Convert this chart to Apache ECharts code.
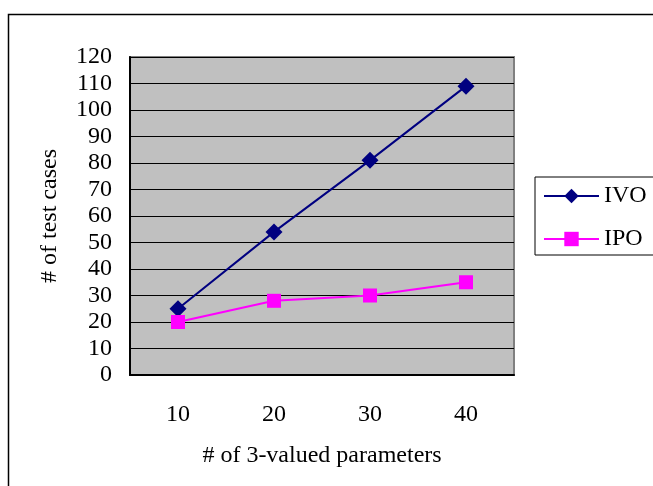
<!DOCTYPE html>
<html>
<head>
<meta charset="utf-8">
<script src="https://cdn.jsdelivr.net/npm/echarts@6/dist/echarts.min.js"></script>
<style>
  html, body { margin: 0; padding: 0; background: #fff; }
  #main { width: 653px; height: 486px; }
</style>
</head>
<body>
<div id="main"></div>
<script>
// data
var categories = ['10', '20', '30', '40'];
var ivoValues = [25, 54, 81, 109];
var ipoValues = [20, 28, 30, 35];

var font = 'Liberation Serif';
var myChart = echarts.init(document.getElementById('main'));

var option = {
    animation: false,
    textStyle: { fontFamily: font },
    graphic: [
        {
            // outer frame
            type: 'rect',
            shape: { x: 8.5, y: 14.5, width: 700, height: 500 },
            style: { fill: 'none', stroke: '#000', lineWidth: 1.5 },
            z: -1
        }
    ],
    grid: {
        left: 130, top: 57, width: 384, height: 318,
        show: true,
        backgroundColor: '#c0c0c0',
        borderColor: '#808080',
        borderWidth: 2
    },
    legend: {
        orient: 'vertical',
        left: 535, top: 177,
        width: 118,
        padding: [7, 40, 4, 8],
        itemGap: 19,
        itemWidth: 55,
        itemHeight: 18,
        borderColor: '#000',
        borderWidth: 1,
        textStyle: { fontFamily: font, fontSize: 24, lineHeight: 24, color: '#000' },
        data: ['IVO', 'IPO']
    },
    xAxis: {
        type: 'category',
        data: categories,
        boundaryGap: true,
        name: '# of 3-valued parameters',
        nameLocation: 'middle',
        nameGap: 69,
        nameTextStyle: { fontFamily: font, fontSize: 24, color: '#000' },
        axisLine: { lineStyle: { color: '#000', width: 2 } },
        axisTick: { inside: true, length: 6, lineStyle: { color: '#000' } },
        axisLabel: { margin: 28, fontFamily: font, fontSize: 24, color: '#000' },
        splitLine: { show: false }
    },
    yAxis: {
        type: 'value',
        min: 0, max: 120, interval: 10,
        name: '# of test cases',
        nameLocation: 'middle',
        nameGap: 68,
        nameTextStyle: { fontFamily: font, fontSize: 24, color: '#000' },
        axisLine: { show: true, lineStyle: { color: '#000', width: 2 } },
        axisTick: { show: true, inside: true, length: 6, lineStyle: { color: '#000' } },
        axisLabel: { margin: 18, fontFamily: font, fontSize: 24, color: '#000' },
        splitLine: { show: true, lineStyle: { color: '#000', width: 1 } }
    },
    series: [
        {
            name: 'IVO',
            type: 'line',
            data: ivoValues,
            symbol: 'diamond',
            symbolSize: 17,
            lineStyle: { color: '#000080', width: 2 },
            itemStyle: { color: '#000080' }
        },
        {
            name: 'IPO',
            type: 'line',
            data: ipoValues,
            symbol: 'rect',
            symbolSize: 14,
            lineStyle: { color: '#ff00ff', width: 2 },
            itemStyle: { color: '#ff00ff' }
        }
    ]
};

myChart.setOption(option);
</script>
</body>
</html>
